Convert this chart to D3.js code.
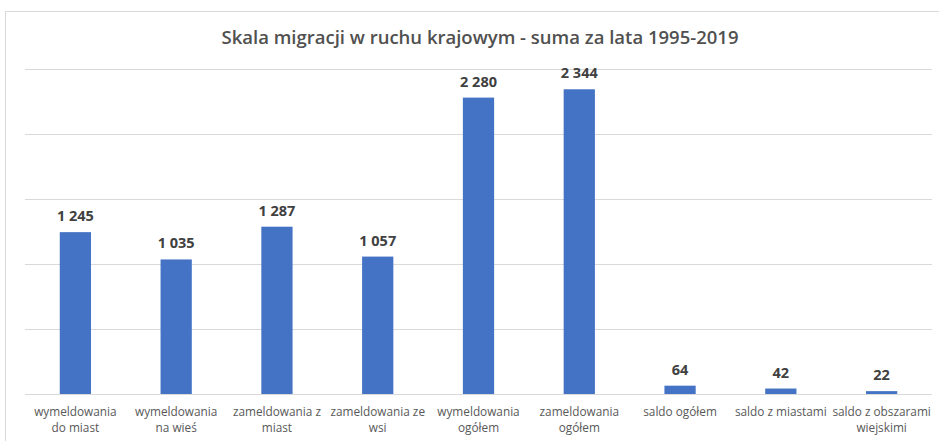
<!DOCTYPE html>
<html>
<head>
<meta charset="utf-8">
<script src="https://cdn.jsdelivr.net/npm/d3@7"></script>
<style>
  html, body { margin: 0; padding: 0; background: #fff; }
  svg { display: block; }
</style>
</head>
<body>
<svg id="chart" width="939" height="441"></svg>
<script>
// Migration totals 1995-2019 (thousands)
const categories = [
  ["wymeldowania", "do miast"],
  ["wymeldowania", "na wieś"],
  ["zameldowania z", "miast"],
  ["zameldowania ze", "wsi"],
  ["wymeldowania", "ogółem"],
  ["zameldowania", "ogółem"],
  ["saldo ogółem"],
  ["saldo z miastami"],
  ["saldo z obszarami", "wiejskimi"]
];
const values = [1245, 1035, 1287, 1057, 2280, 2344, 64, 42, 22];
const gridTicks = [0, 500, 1000, 1500, 2000, 2500];
const title = "Skala migracji w ruchu krajowym - suma za lata 1995-2019";

const svg = d3.select("#chart");
const W = 939, H = 441;
const plot = { left: 25, right: 932, top: 69, bottom: 394 };

// chart frame
svg.append("rect")
  .attr("x", 5.5).attr("y", 11.5)
  .attr("width", W + 10).attr("height", H + 10)
  .attr("fill", "#fff").attr("stroke", "#d9d9d9");

const x = d3.scaleBand()
  .domain(d3.range(categories.length))
  .range([plot.left, plot.right])
  .paddingInner(0.69).paddingOuter(0.345);

const y = d3.scaleLinear()
  .domain([0, 2500])
  .range([plot.bottom, plot.top]);

// horizontal gridlines
svg.append("g")
  .selectAll("line")
  .data(gridTicks)
  .join("line")
  .attr("x1", plot.left).attr("x2", plot.right)
  .attr("y1", d => Math.round(y(d)) + 0.5)
  .attr("y2", d => Math.round(y(d)) + 0.5)
  .attr("stroke", "#d9d9d9").attr("stroke-width", 1);

// bars
svg.append("g")
  .selectAll("rect")
  .data(values)
  .join("rect")
  .attr("x", (d, i) => x(i))
  .attr("width", x.bandwidth())
  .attr("y", d => y(d))
  .attr("height", d => y(0) - y(d))
  .attr("fill", "#4472c4");

// value labels
const fmt = v => d3.format(",")(v).replace(/,/g, " ");
svg.append("g")
  .selectAll("text")
  .data(values)
  .join("text")
  .attr("x", (d, i) => x(i) + x.bandwidth() / 2)
  .attr("y", d => y(d) - 11)
  .attr("text-anchor", "middle")
  .attr("font-family", "'Open Sans', sans-serif")
  .attr("font-weight", "bold")
  .attr("font-size", 14.5)
  .attr("fill", "#404040")
  .text(fmt);

// category axis labels
const axisG = svg.append("g");
categories.forEach((lines, i) => {
  const t = axisG.append("text")
    .attr("x", x(i) + x.bandwidth() / 2)
    .attr("y", 416)
    .attr("text-anchor", "middle")
    .attr("font-family", "'Open Sans', sans-serif")
    .attr("font-size", 11.8)
    .attr("fill", "#595959");
  lines.forEach((s, j) => {
    t.append("tspan")
      .attr("x", x(i) + x.bandwidth() / 2)
      .attr("dy", j === 0 ? 0 : 16)
      .text(s);
  });
});

// title
svg.append("text")
  .attr("x", 480).attr("y", 44)
  .attr("text-anchor", "middle")
  .attr("font-family", "'Open Sans', sans-serif")
  .attr("font-weight", 600)
  .attr("font-size", 18.5)
  .attr("fill", "#505050")
  .text(title);
</script>
</body>
</html>
